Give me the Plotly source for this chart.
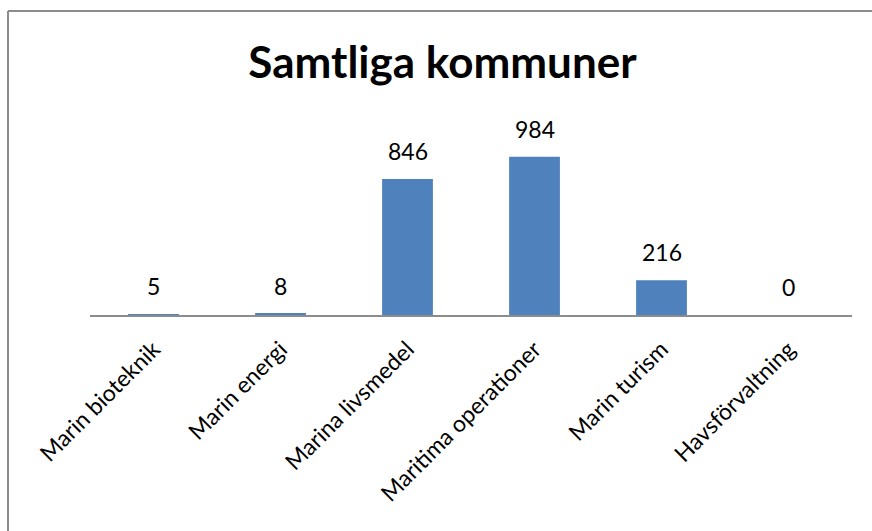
import plotly.graph_objects as go

categories = ["Marin bioteknik", "Marin energi", "Marina livsmedel",
              "Maritima operationer", "Marin turism", "Havsförvaltning"]
values = [5, 8, 846, 984, 216, 0]

W, H = 872, 531
L, R, T, B = 90, 20, 122, 216
pw, ph = W - L - R, H - T - B
FONT = "Lato, Open Sans, sans-serif"

def px(x):
    return (x - L) / pw

def py(y):
    return (H - B - y) / ph

fig = go.Figure(go.Bar(
    x=categories, y=values,
    marker=dict(color="#4F81BD", line=dict(width=0)),
    width=0.4,
    hoverinfo="skip",
))

annotations = [
    dict(x=c, y=v, xref="x", yref="y", text=str(v), showarrow=False,
         yanchor="bottom", yshift=12,
         font=dict(family=FONT, size=23, color="#000000"))
    for c, v in zip(categories, values)
]

fig.update_layout(
    width=W, height=H,
    margin=dict(l=L, r=R, t=T, b=B),
    paper_bgcolor="white", plot_bgcolor="white",
    showlegend=False,
    title=dict(text="<b>Samtliga kommuner</b>", x=442.5 / W, xanchor="center",
               y=1 - 63 / H, yanchor="middle",
               font=dict(family=FONT, size=44, color="#000000")),
    xaxis=dict(showline=True, linecolor="#8C8C8C", linewidth=1.5,
               tickangle=-45, ticks="", ticklabelstandoff=10,
               tickfont=dict(family=FONT, size=23, color="#000000"),
               showgrid=False),
    yaxis=dict(range=[0, 1200], visible=False, showgrid=False),
    annotations=annotations,
    shapes=[
        dict(type="line", xref="paper", yref="paper",
             x0=px(8), x1=px(8), y0=py(H + 5), y1=py(11),
             line=dict(color="#8C8C8C", width=2)),
        dict(type="line", xref="paper", yref="paper",
             x0=px(8), x1=px(W + 5), y0=py(11), y1=py(11),
             line=dict(color="#8C8C8C", width=2)),
    ],
)

fig.write_html("out.html", config={"displayModeBar": False})

with open("out.html", encoding="utf-8") as f:
    html = f.read()
html = html.replace("<head>", "<head><style>html,body{margin:0;padding:0;overflow:hidden;}</style>", 1)
with open("out.html", "w", encoding="utf-8") as f:
    f.write(html)
